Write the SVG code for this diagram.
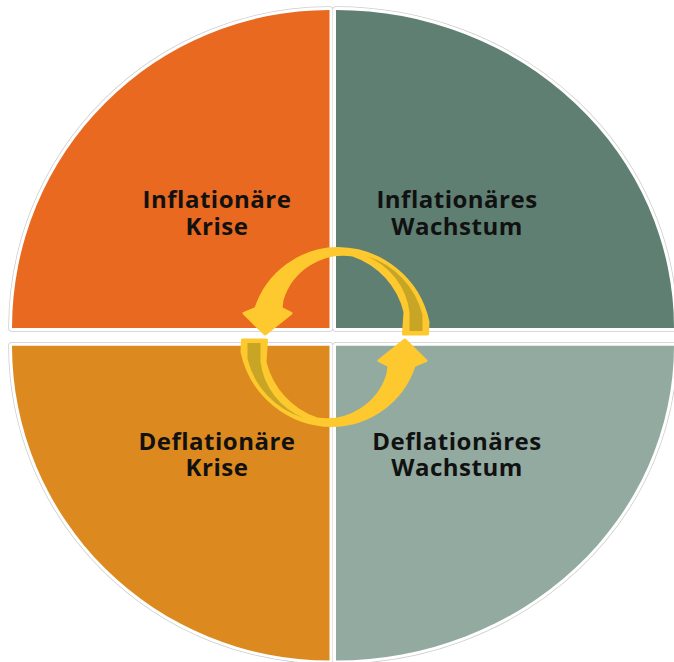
<svg xmlns="http://www.w3.org/2000/svg" width="674" height="662" viewBox="0 0 674 662">
  <style>
    .halo { fill: none; stroke: #cdcdcd; stroke-width: 7.5; stroke-linejoin: round; }
    .gap { fill: none; stroke: #ffffff; stroke-width: 6; stroke-linejoin: round; }
    .label { font-family: "Open Sans", "Noto Sans", "Liberation Sans", sans-serif; font-weight: 700; font-size: 24px; letter-spacing: 0.5px; fill: #111111; text-anchor: middle; }
    .band { fill: #fdc92e; stroke: #fdc92e; stroke-width: 3; stroke-linejoin: round; }
    .back { fill: #c9a525; }
  </style>
  <defs>
    <path id="q-tl" d="M329.5,328 L12,328 A317.5 318 0 0 1 329.5,10 Z"/>
    <path id="q-tr" d="M336,328 L336,10 A338 318 0 0 1 674,328 Z"/>
    <path id="q-bl" d="M329.5,345.7 L329.5,660.5 A317.5 314.8 0 0 1 12,345.7 Z"/>
    <path id="q-br" d="M336,345.7 L674,345.7 A338 314.8 0 0 1 336,660.5 Z"/>
    <!-- one curved ribbon arrow: tail on the right, head pointing down on the left -->
    <g id="cycle-arrow">
      <path class="band" d="M256,308.3 A87 87 0 0 1 338,248.5 A93 93 0 0 1 428,322 L427.5,334 L403.5,334 L405,312 A80 80 0 0 0 353,255 A64 64 0 0 0 282,300 L281,308.3 L291,313.3 L265,334 L244,313.3 Z"/>
      <path class="back" d="M409.5,331 L422.5,331 L422.5,315 A82 82 0 0 0 366,256 A70 70 0 0 1 409.5,312 Z"/>
    </g>
  </defs>

  <!-- outline halo around the four quadrants -->
  <g id="halo">
    <use href="#q-tl" class="halo"/>
    <use href="#q-tr" class="halo"/>
    <use href="#q-bl" class="halo"/>
    <use href="#q-br" class="halo"/>
    <use href="#q-tl" class="gap"/>
    <use href="#q-tr" class="gap"/>
    <use href="#q-bl" class="gap"/>
    <use href="#q-br" class="gap"/>
  </g>

  <g id="inflationaere-krise">
    <use href="#q-tl" fill="#e8691f"/>
    <text class="label" x="217" y="208">Inflationäre</text>
    <text class="label" x="217" y="235">Krise</text>
  </g>

  <g id="inflationaeres-wachstum">
    <use href="#q-tr" fill="#5e7f72"/>
    <text class="label" x="457" y="208">Inflationäres</text>
    <text class="label" x="457" y="235">Wachstum</text>
  </g>

  <g id="deflationaere-krise">
    <use href="#q-bl" fill="#dc8a1f"/>
    <text class="label" x="217" y="450">Deflationäre</text>
    <text class="label" x="217" y="476">Krise</text>
  </g>

  <g id="deflationaeres-wachstum">
    <use href="#q-br" fill="#93aaa0"/>
    <text class="label" x="457" y="450">Deflationäres</text>
    <text class="label" x="457" y="476">Wachstum</text>
  </g>

  <!-- cycle connectors -->
  <g id="connectors">
    <use href="#cycle-arrow"/>
    <use href="#cycle-arrow" transform="rotate(180 335 337)"/>
  </g>
</svg>
